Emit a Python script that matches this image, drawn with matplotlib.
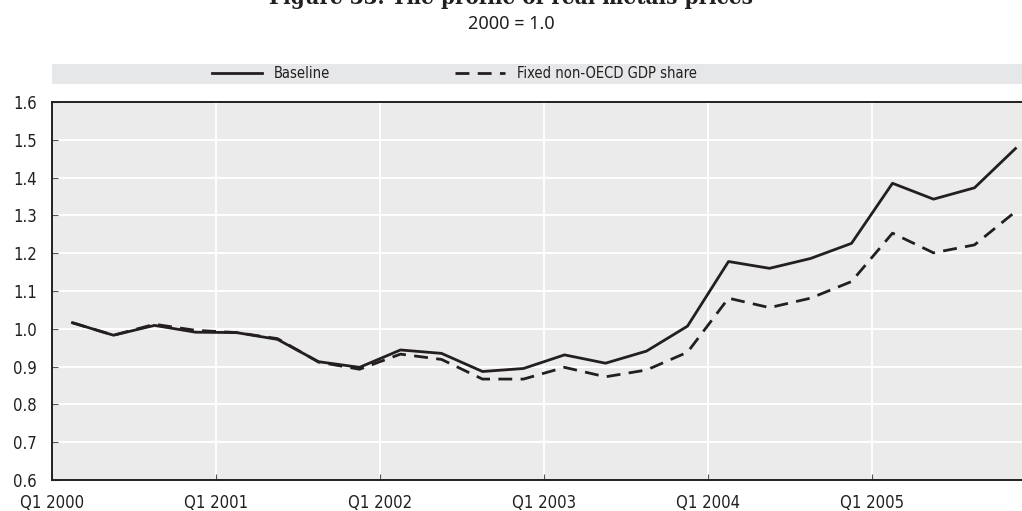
import matplotlib
matplotlib.use("Agg")
import matplotlib.pyplot as plt
from matplotlib.patches import Rectangle
from matplotlib.lines import Line2D

# quarterly series, Q1 2000 .. Q4 2005
quarters = [f"Q{q} {y}" for y in range(2000, 2006) for q in range(1, 5)]
baseline = [1.016, 0.983, 1.009, 0.991, 0.990, 0.972, 0.913, 0.898,
            0.944, 0.935, 0.887, 0.895, 0.931, 0.909, 0.941, 1.007,
            1.178, 1.160, 1.186, 1.226, 1.385, 1.343, 1.373, 1.477]
fixed_share = [1.016, 0.983, 1.012, 0.996, 0.990, 0.974, 0.912, 0.893,
               0.933, 0.919, 0.867, 0.867, 0.898, 0.873, 0.891, 0.938,
               1.081, 1.056, 1.081, 1.125, 1.253, 1.201, 1.222, 1.310]
tick_labels = ["Q1 2000", "Q1 2001", "Q1 2002", "Q1 2003", "Q1 2004", "Q1 2005"]

INK = "#231f20"
plt.rcParams["font.family"] = ["DejaVu Sans"]
plt.rcParams["font.stretch"] = "condensed"

fig = plt.figure(figsize=(10.22, 5.11), dpi=100)
ax = fig.add_axes([52 / 1022, 31 / 511, 970 / 1022, 378 / 511])

x = [i + 0.5 for i in range(len(quarters))]
ax.plot(x, baseline, color=INK, lw=2.0, label="Baseline")
ax.plot(x, fixed_share, color=INK, lw=2.0, dashes=(5, 3),
        label="Fixed non-OECD GDP share")

ax.set_facecolor("#ebebeb")
ax.set_xlim(0, 970 / 41)
ax.set_ylim(0.6, 1.6)
ax.set_xticks(range(0, 24, 4))
ax.set_xticklabels(tick_labels)
ax.set_yticks([0.6 + 0.1 * k for k in range(11)])
ax.set_yticklabels([f"{0.6 + 0.1 * k:.1f}" for k in range(11)])
ax.grid(True, color="white", lw=1.4)
ax.set_axisbelow(True)
ax.tick_params(axis="both", direction="in", length=4, color="#555555",
               labelsize=12, labelcolor=INK)
ax.tick_params(axis="y", pad=11)
ax.tick_params(axis="x", pad=10)

for side in ("left", "bottom", "top"):
    ax.spines[side].set_color(INK)
    ax.spines[side].set_linewidth(1.4)
ax.spines["right"].set_visible(False)

# legend band
fig.add_artist(Rectangle((52 / 1022, (511 - 84) / 511), 970 / 1022, 20 / 511,
                         transform=fig.transFigure, facecolor="#e6e7e8",
                         edgecolor="none", zorder=0))
handles = [Line2D([], [], color=INK, lw=2.0),
           Line2D([], [], color=INK, lw=2.0, dashes=(5, 3))]
fig.legend(handles, ["Baseline", "Fixed non-OECD GDP share"], ncol=2,
           loc="center left", bbox_to_anchor=(205 / 1022, (511 - 74) / 511),
           frameon=False, fontsize=10.5, handlelength=3.4, handletextpad=0.8,
           columnspacing=8.6, borderpad=0.0, labelcolor=INK)

fig.text(0.5, 1 - 4 / 511, "Figure 33. The profile of real metals prices",
         ha="center", va="baseline", fontsize=16, fontweight="bold",
         family="DejaVu Serif", color=INK)
fig.text(0.5, 1 - 24 / 511, "2000 = 1.0", ha="center", va="center",
         fontsize=13, family="Noto Sans", color=INK)

fig.savefig("out.png", dpi=100)
